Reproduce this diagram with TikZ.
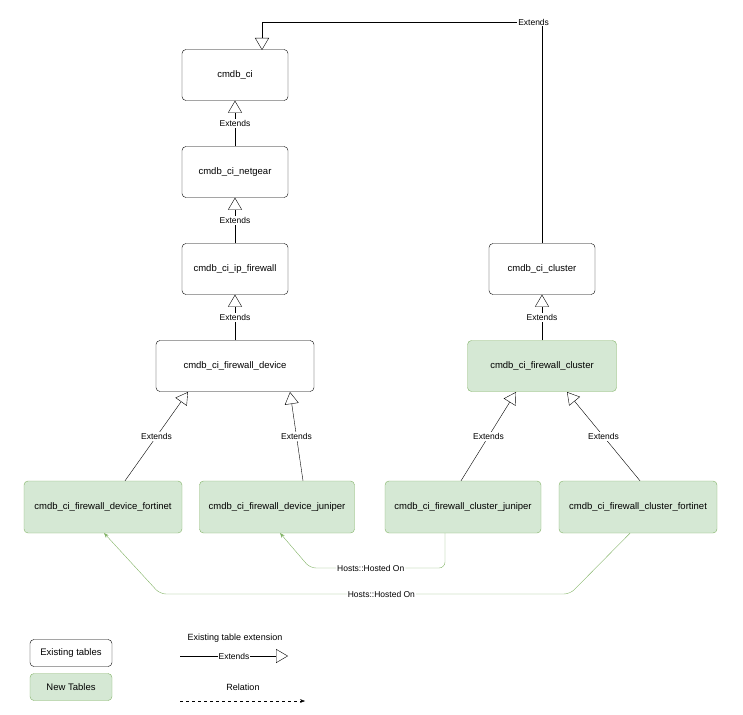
\documentclass[tikz,border=0pt]{standalone}
\usepackage{fontspec}
\setmainfont{Liberation Sans}
\usetikzlibrary{arrows.meta}
\definecolor{newfill}{HTML}{D5E8D4}
\definecolor{newline}{HTML}{82B366}
\tikzset{
  tbl/.style={draw, rounded corners=4pt, minimum width=106pt, minimum height=51pt, font=\fontsize{9.5}{11}\selectfont},
  newtbl/.style={tbl, fill=newfill, draw=newline},
  ext/.style={-{Triangle[open,length=12pt,width=14pt]}},
  rel/.style={draw=newline, -{Stealth[length=5pt]}, rounded corners=6pt},
  lbl/.style={fill=white, inner sep=1pt, font=\fontsize{8.5}{10}\selectfont}
}
\begin{document}
\begin{tikzpicture}[x=1pt,y=-1pt]
\useasboundingbox (0,0) rectangle (743,714);
% existing tables
\node[tbl] (ci) at (235,75) {cmdb\_ci};
\node[tbl] (netgear) at (235,172) {cmdb\_ci\_netgear};
\node[tbl] (ipfw) at (235,269) {cmdb\_ci\_ip\_firewall};
\node[tbl, minimum width=158pt] (fwdev) at (235,366) {cmdb\_ci\_firewall\_device};
\node[tbl] (cluster) at (542,269) {cmdb\_ci\_cluster};
% new tables
\node[newtbl, minimum width=149pt] (fwcl) at (542,366) {cmdb\_ci\_firewall\_cluster};
\node[newtbl, minimum width=158pt, minimum height=52pt] (devfort) at (103,507) {cmdb\_ci\_firewall\_device\_fortinet};
\node[newtbl, minimum width=155pt, minimum height=52pt] (devjun) at (277,507) {cmdb\_ci\_firewall\_device\_juniper};
\node[newtbl, minimum width=156pt, minimum height=52pt] (cljun) at (463,507) {cmdb\_ci\_firewall\_cluster\_juniper};
\node[newtbl, minimum width=158pt, minimum height=52pt] (clfort) at (638,507) {cmdb\_ci\_firewall\_cluster\_fortinet};

% extends
\draw[ext] (netgear) -- node[lbl, pos=0.5] {Extends} (ci);
\draw[ext] (ipfw) -- node[lbl] {Extends} (netgear);
\draw[ext] (fwdev) -- node[lbl] {Extends} (ipfw);
\draw[ext] (fwcl) -- node[lbl] {Extends} (cluster);
\draw[ext] (cluster.north) -- (542,22) -- node[lbl, pos=0.03] {Extends} (262,22) -- (262,50);
\draw[ext] (devfort.north -| 125,0) -- node[lbl] {Extends} (188,392);
\draw[ext] (devjun.north -| 303,0) -- node[lbl] {Extends} (290,392);
\draw[ext] (cljun.north -| 461,0) -- node[lbl] {Extends} (516,392);
\draw[ext] (clfort.north -| 640,0) -- node[lbl] {Extends} (567,392);

% relations
\draw[rel] (cljun.south -| 445,0) -- (445,568) -- node[lbl, pos=0.55] {Hosts::Hosted On} (310,568) -- (280,533);
\draw[rel] (clfort.south -| 630,0) -- (570,594) -- node[lbl, pos=0.46] {Hosts::Hosted On} (160,594) -- (104,533);

% legend
\node[tbl, minimum width=82pt, minimum height=27pt] (legold) at (71,653) {Existing tables};
\node[newtbl, minimum width=82pt, minimum height=27pt] (legnew) at (71,687) {New Tables};
\node[font=\fontsize{9}{10}\selectfont] (legext) at (235,638) {Existing table extension};
\coordinate (extA) at (180,656);
\coordinate (extB) at (288,656);
\draw[ext] (extA) -- node[lbl] {Extends} (extB);
\node[font=\fontsize{9}{10}\selectfont] (legrel) at (243,687) {Relation};
\coordinate (relA) at (180,701);
\coordinate (relB) at (305,701);
\draw[dashed, -{Stealth[length=5pt]}] (relA) -- (relB);
\end{tikzpicture}
\end{document}
